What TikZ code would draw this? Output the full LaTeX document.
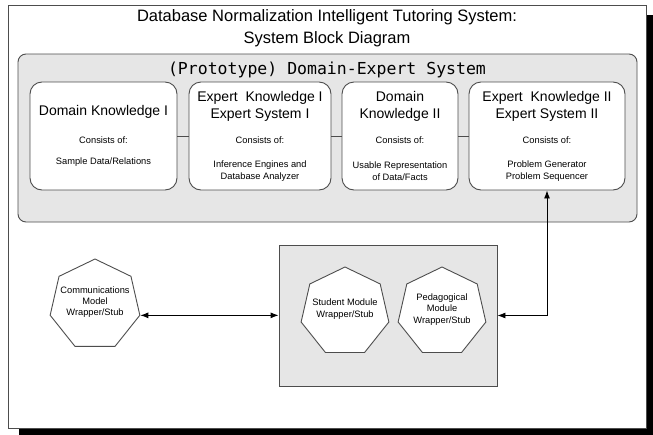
\documentclass[tikz,border=0pt]{standalone}
\usepackage{fontspec}
\setmainfont{Liberation Sans}
\newfontfamily\monofont{DejaVu Sans Mono}
\usetikzlibrary{shapes.geometric,arrows.meta}
\definecolor{panel}{HTML}{E6E6E6}
\definecolor{edge}{HTML}{4D4D4D}
\begin{document}
\begin{tikzpicture}[x=1pt,y=-1pt,
  kbox/.style={draw=edge, fill=white, rounded corners=12pt, line width=0.9pt,
    minimum height=108pt, inner sep=0pt},
  heading/.style={align=center, font=\fontsize{14}{17}\selectfont},
  small/.style={align=center, font=\fontsize{9.3}{12}\selectfont},
  hsmall/.style={align=center, font=\fontsize{9.3}{11.3}\selectfont},
  hept/.style={draw=edge, fill=white, regular polygon, regular polygon sides=7,
    line width=0.9pt, inner sep=0pt},
  conn/.style={draw=edge, line width=0.9pt},
  arr/.style={draw=black, line width=0.9pt, {Latex[length=8pt,width=6pt]}-{Latex[length=8pt,width=6pt]}}
]
\useasboundingbox (0,0) rectangle (653,434);
% frame with shadow
\node[fill=black, minimum width=660pt, minimum height=430pt, anchor=north west, inner sep=0pt] (shadow) at (19,15) {};
\node[draw=edge, fill=white, line width=0.9pt, minimum width=638pt, minimum height=423pt, anchor=north west, inner sep=0pt] (frame) at (8,5) {};
\node[align=center, font=\fontsize{16.5}{21.5}\selectfont] (title) at (327,28) {Database Normalization Intelligent Tutoring System:\\System Block Diagram};
% domain-expert panel
\node[draw=edge, fill=panel, rounded corners=8pt, line width=0.9pt, minimum width=619pt, minimum height=168pt, inner sep=0pt] (panel) at (327.5,138) {};
\node[font=\monofont\fontsize{16.5}{20}\selectfont] (ptitle) at (327,70) {(Prototype) Domain-Expert System};
% boxes
\node[kbox, minimum width=147pt] (b1) at (103.5,136) {};
\node[kbox, minimum width=142pt] (b2) at (260,136) {};
\node[kbox, minimum width=116pt] (b3) at (400,136) {};
\node[kbox, minimum width=156pt] (b4) at (547,136) {};
\draw[conn] (b1.east) -- (b2.west);
\draw[conn] (b2.east) -- (b3.west);
\draw[conn] (b3.east) -- (b4.west);
\node[heading] (t1) at (103.5,112) {Domain Knowledge I};
\node[heading] (t2) at (260,106.5) {Expert\ \ Knowledge I\\Expert System I};
\node[heading] (t3) at (400,106.5) {Domain\\Knowledge II};
\node[heading] (t4) at (547,106.5) {Expert\ \ Knowledge II\\Expert System II};
\node[small] (c1) at (103.5,140) {Consists of:};
\node[small] (c2) at (260,140) {Consists of:};
\node[small] (c3) at (400,140) {Consists of:};
\node[small] (c4) at (547,140) {Consists of:};
\node[small] (d1) at (103.5,162) {Sample Data/Relations};
\node[small] (d2) at (260,171) {Inference Engines and\\Database Analyzer};
\node[small] (d3) at (400,171) {Usable Representation\\of Data/Facts};
\node[small] (d4) at (547,171) {Problem Generator\\Problem Sequencer};
% lower part
\node[draw=edge, fill=panel, line width=0.9pt, minimum width=218pt, minimum height=141pt, inner sep=0pt] (grp) at (388,315.5) {};
\node[hept, minimum size=92pt] (comm) at (95,305) {};
\node[hept, minimum size=90pt] (stud) at (345,312) {};
\node[hept, minimum size=90pt] (ped) at (442,312) {};
\node[hsmall] (commt) at (95,302) {Communications\\Model\\Wrapper/Stub};
\node[hsmall] (studt) at (345,309) {Student Module\\Wrapper/Stub};
\node[hsmall] (pedt) at (442,309.5) {Pedagogical\\Module\\Wrapper/Stub};
\draw[arr] (comm.corner 6) -- (comm.corner 6 -| grp.west);
\draw[arr] (b4.south) |- (grp.east);
\end{tikzpicture}
\end{document}
